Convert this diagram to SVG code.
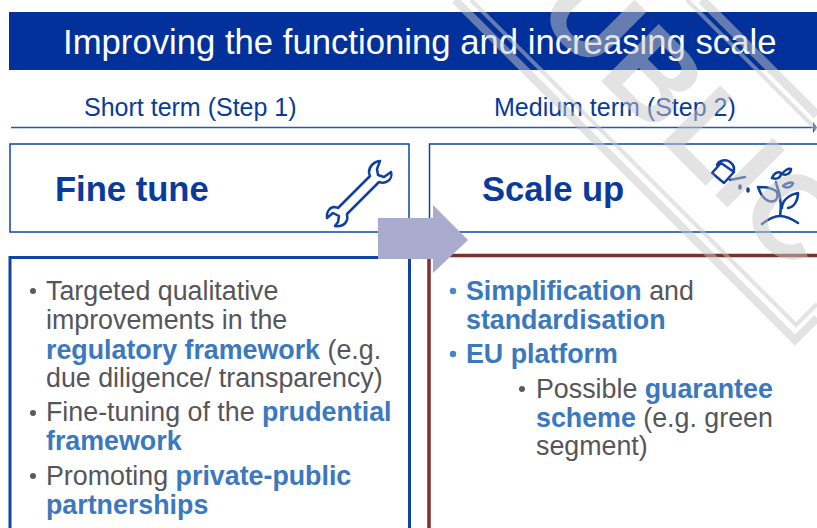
<svg xmlns="http://www.w3.org/2000/svg" width="817" height="528" viewBox="0 0 817 528">
<style>
text{font-family:"Liberation Sans",Arial,sans-serif}
.hd{fill:#0a3a9c;font-size:25px}
.ti{fill:#0a3a9c;font-size:34.600px;font-weight:bold}
.b{font-size:26.800px;fill:#55555a}
.k{fill:#3b78bd;font-weight:bold}
.box{fill:#fff;stroke:#0f44a5;stroke-width:1.500}
.ic{fill:none;stroke:#0f3f9f;stroke-width:2.500;stroke-linejoin:round;stroke-linecap:round}
.wm{fill:none;stroke:#c8c8c8;stroke-opacity:.5}
</style>
<rect width="817" height="528" fill="#fff"/>
<g id="header"><rect x="9" y="12" width="808" height="58" fill="#02319b"/>
<text x="63" y="54" fill="#fff" font-size="34.700px">Improving the functioning and increasing scale</text></g>
<g id="short-term"><text class="hd" x="84" y="116">Short term (Step 1)</text></g>
<g id="medium-term"><text class="hd" x="494" y="116">Medium term (Step 2)</text></g>
<g id="connectors">
<path d="M11 127.500H814" stroke="#2a56ad" stroke-width="1.500" fill="none"/>
<path d="M813 122l4 5.500-4 5.500z" fill="#1f4ca8"/>
</g>
<g id="fine-tune"><rect class="box" x="10" y="144" width="399" height="88"/>
<text class="ti" x="55" y="201">Fine tune</text>
<g class="ic"><path d="M380 161c-5 0-11 5-11 11 0 2 .5 3 1 4l-32 32c-2-1-4-1-5-1-4 1-7 6-6 11l6-5 6 3-1 6-3 4c6 1 10-1 12-6 1-2 0-4 0-6l32-32c3 1 6 1 9-1 3-2 4-6 3-9l-7 5-6-2-1-6z"/></g></g>
<g id="scale-up"><path class="box" d="M817 144H429.500V232H817"/>
<text class="ti" x="482" y="201">Scale up</text>
<g class="ic"><path d="M712 173l9-10 13 9-10 11zM717 165c2-5 9-6 13-3 4 3 5 7 3 11M730 180l15-3"/><path d="M740 186v2M748 189v2" stroke-width="3.500"/>
<path d="M762 224c5-4 12-8 18-8 6 0 12 3 18 7M780 216c1-6 1-12 0-18 0-5-3-10-4-16M758 187c5 0 14 0 19 5 1 4 0 8-3 9-5 2-12-2-16-14zM782 208c0-7 6-13 16-15 0 8-4 14-10 15M772 178c2-5 6-7 9-5 0 4-3 7-9 5zM782 174c2-3 6-6 9-5 0 4-4 7-9 5zM783 186c3-3 8-4 10-3-1 4-6 6-10 3z"/></g></g>
<g id="left-panel"><path d="M10 528V257.500H409.500V528" fill="none" stroke="#0f44a5" stroke-width="3"/>
<circle cx="33" cy="291" r="3" fill="#5a5a60"/><circle cx="33" cy="413" r="3" fill="#5a5a60"/><circle cx="33" cy="476" r="3" fill="#5a5a60"/>
<text class="b" x="46" y="300">Targeted qualitative</text>
<text class="b" x="46" y="329">improvements in the</text>
<text class="b" x="46" y="359"><tspan class="k">regulatory framework</tspan> (e.g.</text>
<text class="b" x="46" y="387">due diligence/ transparency)</text>
<text class="b" x="46" y="421">Fine-tuning of the <tspan class="k">prudential</tspan></text>
<text class="b" x="46" y="450"><tspan class="k">framework</tspan></text>
<text class="b" x="46" y="485">Promoting <tspan class="k">private-public</tspan></text>
<text class="b" x="46" y="514"><tspan class="k">partnerships</tspan></text></g>
<g id="right-panel"><path d="M429 528V255.500H817" fill="none" stroke="#7a3230" stroke-width="3.500"/>
<circle cx="453" cy="291" r="3.200" fill="#4a86c4"/><circle cx="453" cy="354" r="3.200" fill="#4a86c4"/><circle cx="522" cy="389" r="3" fill="#5a5a60"/>
<text class="b" x="466" y="300"><tspan class="k">Simplification</tspan> and</text>
<text class="b" x="466" y="329"><tspan class="k">standardisation</tspan></text>
<text class="b" x="466" y="363"><tspan class="k">EU platform</tspan></text>
<text class="b" x="536" y="398">Possible <tspan class="k">guarantee</tspan></text>
<text class="b" x="536" y="427"><tspan class="k">scheme</tspan> (e.g. green</text>
<text class="b" x="536" y="455">segment)</text></g>
<g id="step-arrow"><path d="M378 218H433V205L468 240 433 273V259H378z" fill="#a9acce"/></g>
<g id="watermark">
<path class="wm" stroke-width="8" d="M455 0L795 340 817 318"/>
<path class="wm" stroke-width="4" d="M471 0L796 325 817 304"/>
<path class="wm" stroke-width="9" d="M702 0L817 115"/>
<path class="wm" stroke-width="4" d="M687 0L817 130"/>
<g fill="#c8c8c8" fill-opacity=".5" font-size="118px" font-weight="bold"><text transform="translate(534 14) rotate(45)" letter-spacing="2">UBLIC</text></g>
</g>
</svg>
